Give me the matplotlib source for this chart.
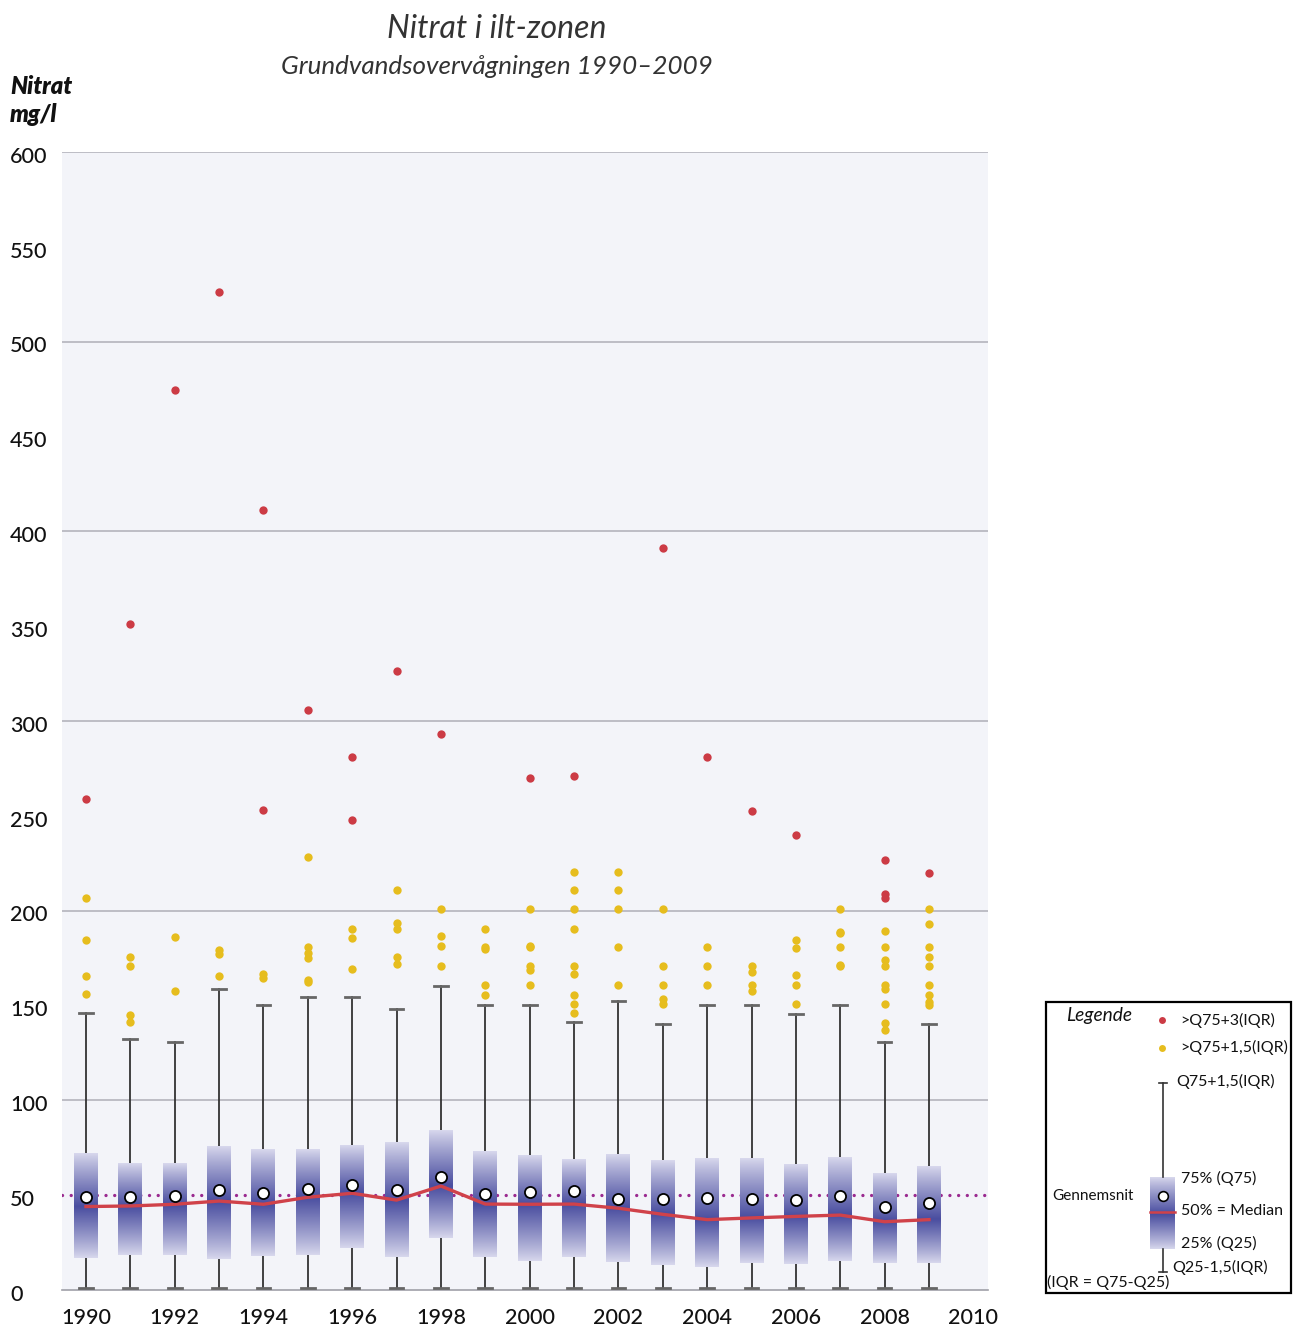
import numpy as np
import matplotlib
matplotlib.use("Agg")
import matplotlib.pyplot as plt
from matplotlib.colors import LinearSegmentedColormap

plt.rcParams['font.family'] = ['Lato', 'DejaVu Sans']

# ---------------- data ----------------
years = [1990, 1991, 1992, 1993, 1994, 1995, 1996, 1997, 1998, 1999,
         2000, 2001, 2002, 2003, 2004, 2005, 2006, 2007, 2008, 2009]
q75 = [72, 67, 67, 76, 74, 74, 76, 78, 84, 73, 71, 69, 71, 68, 69, 69, 66, 70, 61, 65]
q25 = [17, 18.5, 18.5, 16.5, 18, 18.5, 22, 17.5, 27.5, 17.5,
       15.5, 17.5, 14.5, 13, 12, 14, 13.5, 15.5, 14, 14]
means = [49, 49, 49.7, 52.7, 51, 53, 55.4, 52.6, 59.8, 50.6,
         51.5, 52.2, 47.8, 48, 48.3, 47.8, 47.3, 49.6, 43.6, 45.9]
medians = [44, 44.3, 45.2, 46.9, 45.2, 48.9, 51, 47.4, 54.8, 45.3,
           45.2, 45.3, 43.1, 39.9, 37.1, 38, 38.8, 39.5, 36, 37.1]
whisker_hi = [146, 132.5, 130.8, 158.9, 150.3, 154.6, 154.6, 148.3, 160.3, 150.3,
              150.3, 141.3, 152.6, 140.4, 150.3, 150.3, 145.7, 150.3, 130.6, 140.4]
whisker_lo = [1.2, 1.2, 1.2, 1.2, 1.2, 1.2, 1.2, 1.2, 1.2, 1.2,
              1.2, 1.2, 1.2, 1.2, 1.2, 1.2, 1.2, 1.2, 1.2, 1.2]
outliers_mild = [
    [206.8, 184.5, 165.7, 156.2],
    [175.7, 170.8, 145.0, 141.1],
    [186.0, 157.6],
    [179.3, 177.0, 165.7],
    [166.4, 164.7],
    [228.1, 180.7, 177.5, 175.2, 163.4, 162.4],
    [190.5, 185.8, 169.4],
    [210.7, 193.5, 190.5, 175.7, 171.7],
    [200.9, 186.8, 181.5, 170.8],
    [190.5, 180.8, 179.8, 160.8, 155.7],
    [200.9, 181.5, 180.7, 170.8, 168.7, 160.8],
    [220.5, 210.7, 200.9, 190.5, 170.7, 166.5, 155.7, 150.6, 145.9],
    [220.5, 210.7, 200.9, 180.7, 160.8],
    [200.9, 170.7, 160.8, 153.4, 150.6],
    [180.7, 170.7, 160.8],
    [171.0, 167.7, 161.0, 157.5],
    [184.5, 180.5, 165.9, 160.8, 150.6],
    [200.9, 188.9, 188.1, 180.7, 171.2, 170.6],
    [189.4, 180.7, 173.8, 170.7, 160.8, 158.5, 150.6, 140.8, 136.9],
    [200.9, 193.0, 180.7, 175.7, 170.7, 160.8, 155.7, 152.0, 150.3],
]
outliers_extreme = [
    [258.9], [351.1], [474.5], [526.2], [411.3, 253.1], [305.8], [281.0, 247.8],
    [326.2], [293.1], [], [269.9], [271.0], [], [391.2], [281.0], [252.5],
    [239.9], [], [226.7, 209.0, 206.5], [219.7],
]
limit_value = 50
y_ticks = [0, 50, 100, 150, 200, 250, 300, 350, 400, 450, 500, 550, 600]
x_ticks = [1990, 1992, 1994, 1996, 1998, 2000, 2002, 2004, 2006, 2008, 2010]

# ---------------- style ----------------
W, H = 1293, 1332
fig = plt.figure(figsize=(W / 100, H / 100), dpi=100)
fig.patch.set_facecolor('white')

ax = fig.add_axes([62 / W, 1 - 1290 / H, (988 - 62) / W, (1290 - 152) / H])
ax.set_facecolor('#f3f4f9')
ax.set_xlim(1989.46, 2010.33)
ax.set_ylim(0, 600)

for s in ['top', 'right', 'left']:
    ax.spines[s].set_visible(False)
ax.spines['bottom'].set_color('#a0a0a8')
ax.spines['bottom'].set_linewidth(1.2)

for g in [100, 200, 300, 400, 500, 600]:
    ax.axhline(g, color='#b4b4bc', lw=1.2, zorder=1)

ax.axhline(limit_value, color='#9a2a90', lw=2.4, ls=(0, (0.01, 2.6)),
           dash_capstyle='round', zorder=2)

cmap = LinearSegmentedColormap.from_list('boxgrad', ['#d8d8ed', '#4a4ea0'])
box_w = 0.54
cap_w = 0.31


def gradient_column(lo, hi, med, n=200):
    yy = np.linspace(lo, hi, n)
    t = np.where(yy >= med, (yy - med) / max(hi - med, 1e-6),
                 (med - yy) / max(med - lo, 1e-6))
    t = np.clip(t, 0, 1)
    return (1 - t) ** 0.9


for i, yr in enumerate(years):
    ax.plot([yr, yr], [q75[i], whisker_hi[i]], color='#333333', lw=1.3, zorder=3)
    ax.plot([yr, yr], [whisker_lo[i], q25[i]], color='#333333', lw=1.3, zorder=3)
    ax.plot([yr - cap_w / 2, yr + cap_w / 2], [whisker_hi[i]] * 2, color='#666666', lw=2, zorder=3)
    ax.plot([yr - cap_w / 2, yr + cap_w / 2], [whisker_lo[i]] * 2, color='#666666', lw=2, zorder=3)
    col = gradient_column(q25[i], q75[i], medians[i])[:, None]
    ax.imshow(col, cmap=cmap, vmin=0, vmax=1, origin='lower', aspect='auto',
              extent=[yr - box_w / 2, yr + box_w / 2, q25[i], q75[i]],
              interpolation='bilinear', zorder=4)
    if outliers_mild[i]:
        ax.plot([yr] * len(outliers_mild[i]), outliers_mild[i], 'o', color='#e6bd1e',
                ms=6, mec='none', zorder=5)
    if outliers_extreme[i]:
        ax.plot([yr] * len(outliers_extreme[i]), outliers_extreme[i], 'o', color='#cc3b45',
                ms=6, mec='none', zorder=5)

ax.set_xlim(1989.46, 2010.33)
ax.set_ylim(0, 600)

ax.plot(years, medians, color='#d0424a', lw=2.4, zorder=6, solid_joinstyle='round')
ax.plot(years, means, 'o', color='white', mec='black', mew=1.3, ms=8, zorder=7)

ax.set_yticks(y_ticks)
ax.set_yticklabels([])
ax.tick_params(axis='y', length=0)
ytrans = ax.get_yaxis_transform()
for v in y_ticks:
    ax.text(-52 / 926, v - 2.5, str(v), transform=ytrans, ha='left', va='center',
            fontsize=15.5, fontweight='medium', color='#111111')

ax.set_xticks(x_ticks)
ax.set_xticklabels([str(x) for x in x_ticks], fontsize=15.5, fontweight='medium',
                   color='#111111')
ax.tick_params(axis='x', length=0, pad=13)

# ---------------- overlay (titles and legend) ----------------
ov = fig.add_axes([0, 0, 1, 1], zorder=10)
ov.set_xlim(0, W)
ov.set_ylim(H, 0)
ov.axis('off')
ov.patch.set_alpha(0)

ov.text(497, 29, 'Nitrat i ilt-zonen', ha='center', va='center', fontsize=23,
        style='italic', fontweight='normal', color='#333333')
ov.text(497, 66, 'Grundvandsovervågningen 1990–2009', ha='center', va='center',
        fontsize=18.7, style='italic', fontweight='normal', color='#333333')
ov.text(10, 86, 'Nitrat', ha='left', va='center', fontsize=17, style='italic',
        fontweight='heavy', color='#111111')
ov.text(10, 115, 'mg/l', ha='left', va='center', fontsize=17, style='italic',
        fontweight='heavy', color='#111111')

# legend box
ov.add_patch(plt.Rectangle((1046, 1002), 245, 291, fill=False, ec='black', lw=1.6))
ov.text(1066, 1016, 'Legende', ha='left', va='center', fontsize=13.8, style='italic',
        color='#111111')
ov.plot([1162], [1020], 'o', color='#cc3b45', ms=5, mec='none')
ov.text(1180, 1020, '>Q75+3(IQR)', ha='left', va='center', fontsize=11.5, color='#111111')
ov.plot([1162], [1048], 'o', color='#e6bd1e', ms=5, mec='none')
ov.text(1180, 1047, '>Q75+1,5(IQR)', ha='left', va='center', fontsize=11.5, color='#111111')
ov.plot([1163, 1163], [1083, 1177], color='#333333', lw=1.2)
ov.plot([1159, 1167], [1083, 1083], color='#333333', lw=1.2)
ov.text(1176, 1081, 'Q75+1,5(IQR)', ha='left', va='center', fontsize=11.5, color='#111111')
lg = gradient_column(1177, 1249, 1212)[::-1][:, None]
ov.imshow(lg, cmap=cmap, vmin=0, vmax=1, aspect='auto', interpolation='bilinear',
          extent=[1150, 1175, 1249, 1177], origin='upper')
ov.set_xlim(0, W)
ov.set_ylim(H, 0)
ov.plot([1150, 1175], [1212, 1212], color='#d0424a', lw=1.8)
ov.plot([1163], [1196], 'o', color='white', mec='black', mew=1.2, ms=7)
ov.plot([1163, 1163], [1249, 1272], color='#333333', lw=1.2)
ov.plot([1159, 1167], [1272, 1272], color='#333333', lw=1.2)
ov.text(1181, 1178, '75% (Q75)', ha='left', va='center', fontsize=11.5, color='#111111')
ov.text(1181, 1211, '50% = Median', ha='left', va='center', fontsize=11.5, color='#111111')
ov.text(1181, 1243, '25% (Q25)', ha='left', va='center', fontsize=11.5, color='#111111')
ov.text(1052, 1196, 'Gennemsnit', ha='left', va='center', fontsize=11, color='#111111')
ov.text(1172, 1267, 'Q25-1,5(IQR)', ha='left', va='center', fontsize=11.5, color='#111111')
ov.text(1047, 1282, '(IQR = Q75-Q25)', ha='left', va='center', fontsize=11.5, color='#111111')

fig.savefig('out.png', dpi=100)
